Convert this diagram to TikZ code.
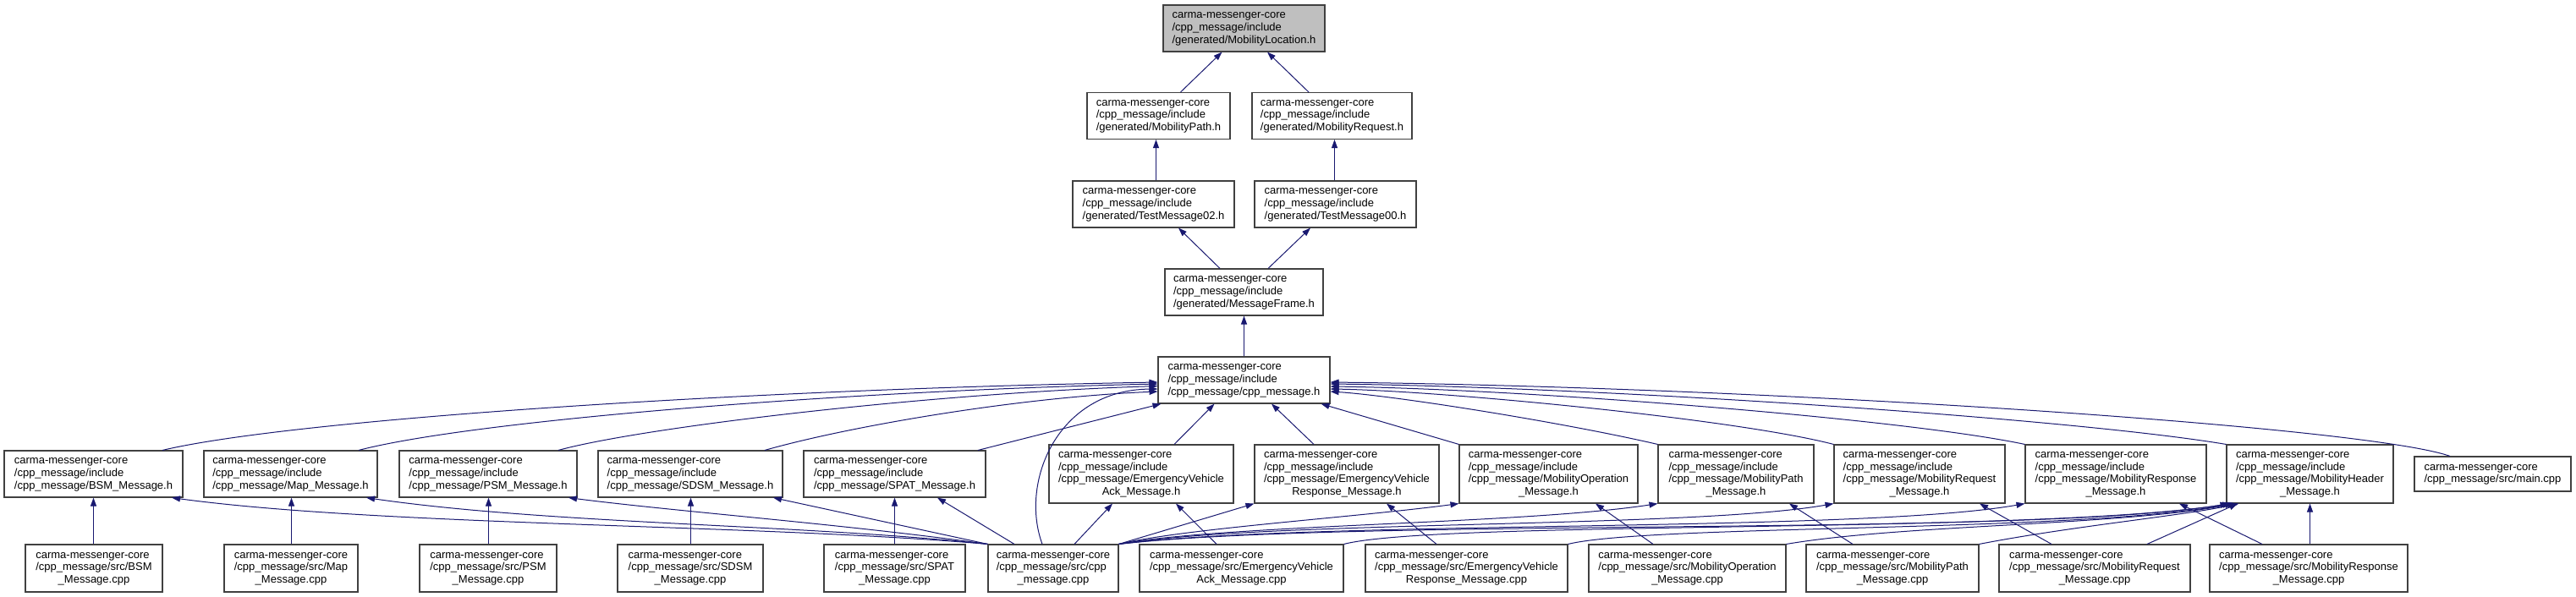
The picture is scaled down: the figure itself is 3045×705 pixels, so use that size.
\documentclass[tikz,border=0pt]{standalone}
\usepackage{fontspec}
\setmainfont{Liberation Sans}
\usetikzlibrary{arrows.meta}
\definecolor{edgeblue}{RGB}{25,25,112}
\definecolor{topgray}{RGB}{191,191,191}
\newcommand{\lns}[2]{\begin{tabular}{@{}l@{}}#1\\\multicolumn{1}{@{}c@{}}{#2}\end{tabular}}
\newcommand{\cmc}{carma-messenger-core}
\newcommand{\inc}{/cpp\_message/include}
\tikzset{
  box/.style={draw=black!75, line width=1.1pt, fill=white, inner sep=0pt,
    font=\fontsize{13}{14.7}\selectfont},
  dep/.style={draw=edgeblue, line width=1pt, -{Triangle[length=10pt,width=7pt]}, edgeblue}
}
\begin{document}
\begin{tikzpicture}[x=1pt,y=-1pt]
\useasboundingbox (0,0) rectangle (3045,705);
% top chain
\node[box, fill=topgray, minimum width=191pt, minimum height=55pt] (loc) at (1470.5,33.5) {\lns{\cmc\\\inc}{/generated/MobilityLocation.h}};
\node[box, minimum width=169pt, minimum height=55pt] (mpath) at (1369.5,137) {\lns{\cmc\\\inc}{/generated/MobilityPath.h}};
\node[box, minimum width=189pt, minimum height=55pt] (mreq) at (1574.5,137) {\lns{\cmc\\\inc}{/generated/MobilityRequest.h}};
\node[box, minimum width=191pt, minimum height=55pt] (tm02) at (1363.5,241.5) {\lns{\cmc\\\inc}{/generated/TestMessage02.h}};
\node[box, minimum width=191pt, minimum height=55pt] (tm00) at (1578.5,241.5) {\lns{\cmc\\\inc}{/generated/TestMessage00.h}};
\node[box, minimum width=187pt, minimum height=55pt] (mframe) at (1470.5,345.5) {\lns{\cmc\\\inc}{/generated/MessageFrame.h}};
\node[box, minimum width=203pt, minimum height=55pt] (cpph) at (1470.5,449.5) {\lns{\cmc\\\inc}{/cpp\_message/cpp\_message.h}};
% headers row
\node[box, minimum width=211pt, minimum height=55pt] (bsmh) at (110.5,560.5) {\lns{\cmc\\\inc}{/cpp\_message/BSM\_Message.h}};
\node[box, minimum width=205pt, minimum height=55pt] (maph) at (343.5,560.5) {\lns{\cmc\\\inc}{/cpp\_message/Map\_Message.h}};
\node[box, minimum width=210pt, minimum height=55pt] (psmh) at (577,560.5) {\lns{\cmc\\\inc}{/cpp\_message/PSM\_Message.h}};
\node[box, minimum width=218pt, minimum height=55pt] (sdsmh) at (816,560.5) {\lns{\cmc\\\inc}{/cpp\_message/SDSM\_Message.h}};
\node[box, minimum width=215pt, minimum height=55pt] (spath) at (1057.5,560.5) {\lns{\cmc\\\inc}{/cpp\_message/SPAT\_Message.h}};
\node[box, minimum width=218pt, minimum height=69pt] (evackh) at (1349,560.5) {\lns{\cmc\\\inc\\/cpp\_message/EmergencyVehicle}{Ack\_Message.h}};
\node[box, minimum width=218pt, minimum height=69pt] (evresph) at (1592,560.5) {\lns{\cmc\\\inc\\/cpp\_message/EmergencyVehicle}{Response\_Message.h}};
\node[box, minimum width=211pt, minimum height=69pt] (mobophh) at (1830.5,560.5) {\lns{\cmc\\\inc\\/cpp\_message/MobilityOperation}{\_Message.h}};
\node[box, minimum width=184pt, minimum height=69pt] (mobpathh) at (2052,560.5) {\lns{\cmc\\\inc\\/cpp\_message/MobilityPath}{\_Message.h}};
\node[box, minimum width=202pt, minimum height=69pt] (mobreqh) at (2269,560.5) {\lns{\cmc\\\inc\\/cpp\_message/MobilityRequest}{\_Message.h}};
\node[box, minimum width=214pt, minimum height=69pt] (mobresph) at (2501,560.5) {\lns{\cmc\\\inc\\/cpp\_message/MobilityResponse}{\_Message.h}};
\node[box, minimum width=197pt, minimum height=69pt] (mobhdrh) at (2730.5,560.5) {\lns{\cmc\\\inc\\/cpp\_message/MobilityHeader}{\_Message.h}};
\node[box, minimum width=185pt, minimum height=41pt] (mainc) at (2946.5,560.5) {\lns{\cmc}{/cpp\_message/src/main.cpp}};
% cpp row
\node[box, minimum width=162pt, minimum height=56pt] (bsmc) at (111,672) {\lns{\cmc\\/cpp\_message/src/BSM}{\_Message.cpp}};
\node[box, minimum width=158pt, minimum height=56pt] (mapc) at (344,672) {\lns{\cmc\\/cpp\_message/src/Map}{\_Message.cpp}};
\node[box, minimum width=162pt, minimum height=56pt] (psmc) at (577,672) {\lns{\cmc\\/cpp\_message/src/PSM}{\_Message.cpp}};
\node[box, minimum width=172pt, minimum height=56pt] (sdsmc) at (816,672) {\lns{\cmc\\/cpp\_message/src/SDSM}{\_Message.cpp}};
\node[box, minimum width=167pt, minimum height=56pt] (spatc) at (1057.5,672) {\lns{\cmc\\/cpp\_message/src/SPAT}{\_Message.cpp}};
\node[box, minimum width=154pt, minimum height=56pt] (cppc) at (1245,672) {\lns{\cmc\\/cpp\_message/src/cpp}{\_message.cpp}};
\node[box, minimum width=241pt, minimum height=56pt] (evackc) at (1467.5,672) {\lns{\cmc\\/cpp\_message/src/EmergencyVehicle}{Ack\_Message.cpp}};
\node[box, minimum width=239pt, minimum height=56pt] (evrespc) at (1733.5,672) {\lns{\cmc\\/cpp\_message/src/EmergencyVehicle}{Response\_Message.cpp}};
\node[box, minimum width=233pt, minimum height=56pt] (mobopc) at (1994.5,672) {\lns{\cmc\\/cpp\_message/src/MobilityOperation}{\_Message.cpp}};
\node[box, minimum width=204pt, minimum height=56pt] (mobpathc) at (2237,672) {\lns{\cmc\\/cpp\_message/src/MobilityPath}{\_Message.cpp}};
\node[box, minimum width=226pt, minimum height=56pt] (mobreqc) at (2476,672) {\lns{\cmc\\/cpp\_message/src/MobilityRequest}{\_Message.cpp}};
\node[box, minimum width=234pt, minimum height=56pt] (mobrespc) at (2729,672) {\lns{\cmc\\/cpp\_message/src/MobilityResponse}{\_Message.cpp}};
% top edges
\draw[dep] ([xshift=26pt]mpath.north) -- ([xshift=-26pt]loc.south);
\draw[dep] ([xshift=-27.5pt]mreq.north) -- ([xshift=27.5pt]loc.south);
\draw[dep] ([xshift=3pt]tm02.north) -- ([xshift=-3pt]mpath.south);
\draw[dep] ([xshift=-1pt]tm00.north) -- ([xshift=3pt]mreq.south);
\draw[dep] ([xshift=-28.5pt]mframe.north) -- ([xshift=29.5pt]tm02.south);
\draw[dep] ([xshift=28.5pt]mframe.north) -- ([xshift=-29.5pt]tm00.south);
\draw[dep] (cpph.north) -- (mframe.south);
% headers to cpp_message.h
\draw[dep] ([xshift=81.5pt]bsmh.north) .. controls (350,495) and (900,460) .. ([yshift=-2.5pt]cpph.west);
\draw[dep] ([xshift=80.5pt]maph.north) .. controls (560,497) and (1000,462) .. ([yshift=-4.5pt]cpph.west);
\draw[dep] ([xshift=83pt]psmh.north) .. controls (760,505) and (1100,465) .. ([yshift=-7pt]cpph.west);
\draw[dep] ([xshift=88pt]sdsmh.north) .. controls (1000,505) and (1200,470) .. ([yshift=-13.5pt]cpph.west);
\draw[dep] ([xshift=98.5pt]spath.north) -- ([xshift=4pt]cpph.south west);
\draw[dep] ([xshift=-13pt]cppc.north) .. controls (1205,570) and (1250,461) .. ([yshift=-10.5pt]cpph.west);
\draw[dep] ([xshift=39pt]evackh.north) -- ([xshift=-35pt]cpph.south);
\draw[dep] ([xshift=-39pt]evresph.north) -- ([xshift=32.5pt]cpph.south);
\draw[dep] (mobophh.north west) -- ([xshift=-11pt]cpph.south east);
\draw[dep] (mobpathh.north west) .. controls (1850,500) and (1650,468) .. ([yshift=-13.5pt]cpph.east);
\draw[dep] (mobreqh.north west) .. controls (2050,495) and (1700,462) .. ([yshift=-10.5pt]cpph.east);
\draw[dep] (mobresph.north west) .. controls (2250,495) and (1800,460) .. ([yshift=-7.5pt]cpph.east);
\draw[dep] (mobhdrh.north west) .. controls (2450,495) and (1900,458) .. ([yshift=-4.5pt]cpph.east);
\draw[dep] ([xshift=-50.5pt]mainc.north) .. controls (2800,505) and (2100,458) .. ([yshift=-2.5pt]cpph.east);
% cpp to own header
\draw[dep] ([xshift=-0.5pt]bsmc.north) -- (bsmh.south);
\draw[dep] ([xshift=0.5pt]mapc.north) -- ([xshift=1pt]maph.south);
\draw[dep] ([xshift=0.5pt]psmc.north) -- ([xshift=0.5pt]psmh.south);
\draw[dep] ([xshift=0.5pt]sdsmc.north) -- ([xshift=0.5pt]sdsmh.south);
\draw[dep] (spatc.north) -- (spath.south);
\draw[dep] ([xshift=-29.5pt]evackc.north) -- ([xshift=41pt]evackh.south);
\draw[dep] ([xshift=-35.5pt]evrespc.north) -- ([xshift=47pt]evresph.south);
\draw[dep] ([xshift=-40.5pt]mobopc.north) -- ([xshift=55.5pt]mobophh.south);
\draw[dep] ([xshift=-47pt]mobpathc.north) -- ([xshift=63pt]mobpathh.south);
\draw[dep] ([xshift=-51pt]mobreqc.north) -- ([xshift=71pt]mobreqh.south);
\draw[dep] ([xshift=-55pt]mobrespc.north) -- ([xshift=75pt]mobresph.south);
\draw[dep] ([xshift=1.5pt]mobrespc.north) -- (mobhdrh.south);
\draw[dep] ([xshift=62pt]mobreqc.north) -- ([xshift=-85.5pt]mobhdrh.south);
% cpp_message.cpp to headers
\draw[dep] (cppc.north west) .. controls (900,620) and (450,622) .. ([xshift=92.5pt]bsmh.south);
\draw[dep] (cppc.north west) .. controls (950,620) and (650,620) .. ([xshift=89.5pt]maph.south);
\draw[dep] (cppc.north west) .. controls (1000,620) and (800,605) .. ([xshift=95pt]psmh.south);
\draw[dep] (cppc.north west) -- ([xshift=98pt]sdsmh.south);
\draw[dep] ([xshift=-46pt]cppc.north) -- ([xshift=50.5pt]spath.south);
\draw[dep] ([xshift=25pt]cppc.north) -- ([xshift=-34pt]evackh.south);
\draw[dep] (cppc.north east) -- (evresph.south west);
\draw[dep] (cppc.north east) .. controls (1400,625) and (1600,612) .. (mobophh.south west);
\draw[dep] (cppc.north east) .. controls (1450,620) and (1800,620) .. (mobpathh.south west);
\draw[dep] (cppc.north east) .. controls (1500,615) and (2000,625) .. (mobreqh.south west);
\draw[dep] (cppc.north east) .. controls (1550,615) and (2200,630) .. (mobresph.south west);
\draw[dep] (cppc.north east) .. controls (1600,612) and (2400,635) .. ([xshift=3pt]mobhdrh.south west);
% other cpps to MobilityHeader
\draw[dep] (evackc.north east) .. controls (1700,615) and (2400,632) .. ([xshift=6pt]mobhdrh.south west);
\draw[dep] (evrespc.north east) .. controls (1950,620) and (2450,630) .. ([xshift=9pt]mobhdrh.south west);
\draw[dep] (mobopc.north east) .. controls (2250,620) and (2500,622) .. ([xshift=12pt]mobhdrh.south west);
\draw[dep] (mobpathc.north east) .. controls (2450,622) and (2580,610) .. ([xshift=15pt]mobhdrh.south west);
\end{tikzpicture}
\end{document}
